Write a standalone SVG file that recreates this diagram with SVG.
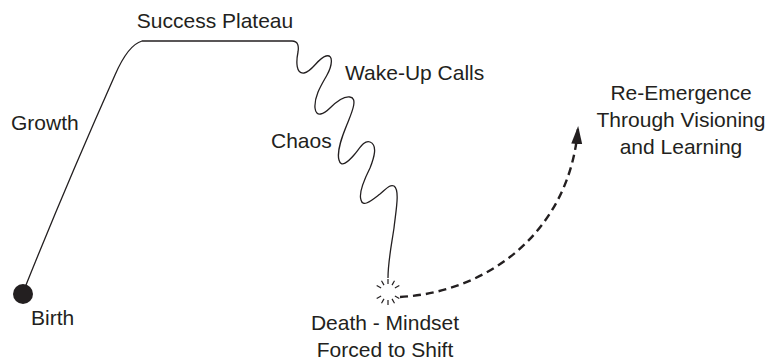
<svg xmlns="http://www.w3.org/2000/svg" width="775" height="362" viewBox="0 0 775 362">
<defs>
<style>
text{font-family:"Liberation Sans",Arial,sans-serif;font-size:21px;fill:#231f20}
.c{text-anchor:middle}
.line{fill:none;stroke:#231f20;stroke-width:1.3}
.dash{fill:none;stroke:#231f20;stroke-width:2.4;stroke-dasharray:8 5}
.ray{stroke:#231f20;stroke-width:1.2}
</style>
<marker id="ah" markerWidth="18" markerHeight="12" refX="16" refY="5.5" orient="auto" markerUnits="userSpaceOnUse" viewBox="0 0 18 11">
<path d="M0,0 L18,5.5 L0,11 Z" fill="#231f20"/>
</marker>
</defs>
<rect width="775" height="362" fill="#fff"/>
<g id="connectors">
<path class="line" d="M24,290 C60,200 95,120 115,75 Q128,45 142,41 L292,41 C298,41 299,46 298,52 C296,62 296,74 304,73 C312,72 318,58 326,56 C334,54 332,66 327,75 C322,84 314,96 315,108 C316,118 324,114 330,108 C338,100 345,96 350,97 C358,98 352,112 348,122 C344,132 336,150 339,160 C341,168 348,162 354,155 C360,148 364,140 370,142 C378,145 374,158 370,168 C366,176 358,192 361,200 C363,208 372,200 380,194 C386,189 390,184 394,186 C400,190 396,210 394,228 C391,248 388,262 388,278"/>
<path class="dash" d="M400,297 C490,292 570,230 578,128" marker-end="url(#ah)"/>
</g>
<g id="birth">
<circle cx="23" cy="294" r="10" fill="#231f20"/>
<text x="31" y="325">Birth</text>
</g>
<g id="growth"><text x="11" y="130">Growth</text></g>
<g id="plateau"><text class="c" x="215" y="28">Success Plateau</text></g>
<g id="wakeup"><text x="345" y="80">Wake-Up Calls</text></g>
<g id="chaos"><text x="271" y="148">Chaos</text></g>
<g id="death">
<g transform="translate(388,292)">
<line class="ray" x1="0" y1="-8" x2="0" y2="-13"/>
<line class="ray" x1="4" y1="-6.9" x2="6.5" y2="-11.3"/>
<line class="ray" x1="6.9" y1="-4" x2="11.3" y2="-6.5"/>
<line class="ray" x1="6.9" y1="4" x2="11.3" y2="6.5"/>
<line class="ray" x1="4" y1="6.9" x2="6.5" y2="11.3"/>
<line class="ray" x1="0" y1="8" x2="0" y2="13"/>
<line class="ray" x1="-4" y1="6.9" x2="-6.5" y2="11.3"/>
<line class="ray" x1="-6.9" y1="4" x2="-11.3" y2="6.5"/>
<line class="ray" x1="-6.9" y1="-4" x2="-11.3" y2="-6.5"/>
<line class="ray" x1="-4" y1="-6.9" x2="-6.5" y2="-11.3"/>
</g>
<text class="c" x="385" y="330">Death - Mindset</text>
<text class="c" x="385" y="357">Forced to Shift</text>
</g>
<g id="reemergence">
<text class="c" x="681" y="100">Re-Emergence</text>
<text class="c" x="681" y="127">Through Visioning</text>
<text class="c" x="681" y="154">and Learning</text>
</g>
</svg>
